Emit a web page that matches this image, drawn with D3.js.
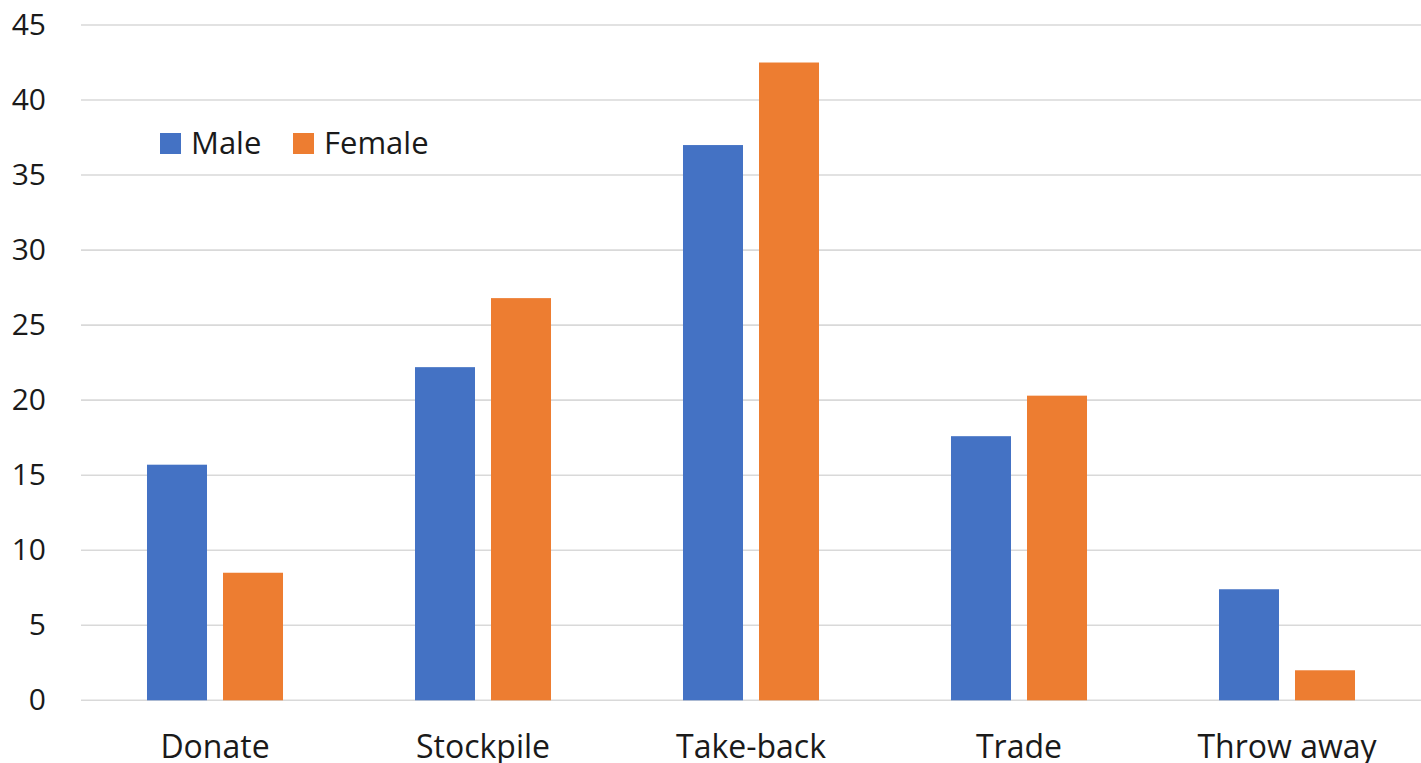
<!DOCTYPE html>
<html>
<head>
<meta charset="utf-8">
<script src="https://cdn.jsdelivr.net/npm/d3@7"></script>
<style>
  html, body { margin: 0; padding: 0; background: #fff; }
  svg { display: block; }
  text { font-family: "Open Sans", "Noto Sans", sans-serif; fill: #1a1a1a; }
</style>
</head>
<body>
<svg id="chart" width="1421" height="763"></svg>
<script>
// Disposal behaviour by gender (%)
const categories = ["Donate", "Stockpile", "Take-back", "Trade", "Throw away"];
const series = ["Male", "Female"];
const maleValues = [15.7, 22.2, 37.0, 17.6, 7.4];
const femaleValues = [8.5, 26.8, 42.5, 20.3, 2.0];
const yTicks = [0, 5, 10, 15, 20, 25, 30, 35, 40, 45];
const colors = { Male: "#4472c4", Female: "#ed7d31" };

const rows = categories.map((c, i) => ({ category: c, Male: maleValues[i], Female: femaleValues[i] }));

const svg = d3.select("#chart");
const plot = { left: 81, right: 1421, top: 25, bottom: 700.3 };

const x = d3.scaleBand()
  .domain(categories)
  .range([plot.left, plot.right])
  .paddingInner(0.4925)
  .paddingOuter(0.4925 / 2);

const xs = d3.scaleBand()
  .domain(series)
  .range([0, x.bandwidth()])
  .paddingInner(16 / 76)
  .paddingOuter(0);

const y = d3.scaleLinear().domain([0, 45]).range([plot.bottom, plot.top]);

// gridlines
svg.append("g")
  .selectAll("line")
  .data(yTicks)
  .join("line")
  .attr("x1", plot.left)
  .attr("x2", plot.right)
  .attr("y1", d => y(d))
  .attr("y2", d => y(d))
  .attr("stroke", "#d9d9d9")
  .attr("stroke-width", 1.6);

// y axis labels
const yAxis = d3.axisLeft(y).tickValues(yTicks).tickSize(0).tickPadding(0);
svg.append("g")
  .attr("transform", `translate(46,0)`)
  .call(yAxis)
  .call(g => g.select(".domain").remove())
  .call(g => g.selectAll("text")
    .attr("font-family", "\"Open Sans\", sans-serif")
    .attr("font-size", 30)
    .attr("fill", "#1a1a1a"));

// bars
const groups = svg.append("g")
  .selectAll("g")
  .data(rows)
  .join("g")
  .attr("transform", d => `translate(${x(d.category)},0)`);

groups.selectAll("rect")
  .data(d => series.map(s => ({ key: s, value: d[s] })))
  .join("rect")
  .attr("x", d => xs(d.key))
  .attr("width", xs.bandwidth())
  .attr("y", d => y(d.value))
  .attr("height", d => y(0) - y(d.value))
  .attr("fill", d => colors[d.key]);

// x axis labels
const xAxis = d3.axisBottom(x).tickSize(0).tickPadding(0);
svg.append("g")
  .attr("transform", `translate(0,${plot.bottom})`)
  .call(xAxis)
  .call(g => g.select(".domain").remove())
  .call(g => g.selectAll("text")
    .attr("font-family", "\"Open Sans\", sans-serif")
    .attr("font-size", 32)
    .attr("dy", null)
    .attr("y", 58)
    .attr("fill", "#1a1a1a"));

// legend
const legend = svg.append("g").attr("transform", "translate(160,133)");
const legendOffsets = [0, 133];
series.forEach((s, i) => {
  const g = legend.append("g").attr("transform", `translate(${legendOffsets[i]},0)`);
  g.append("rect").attr("width", 21).attr("height", 21).attr("fill", colors[s]);
  g.append("text")
    .attr("x", 31)
    .attr("y", 21)
    .attr("font-size", 31)
    .text(s);
});
</script>
</body>
</html>
